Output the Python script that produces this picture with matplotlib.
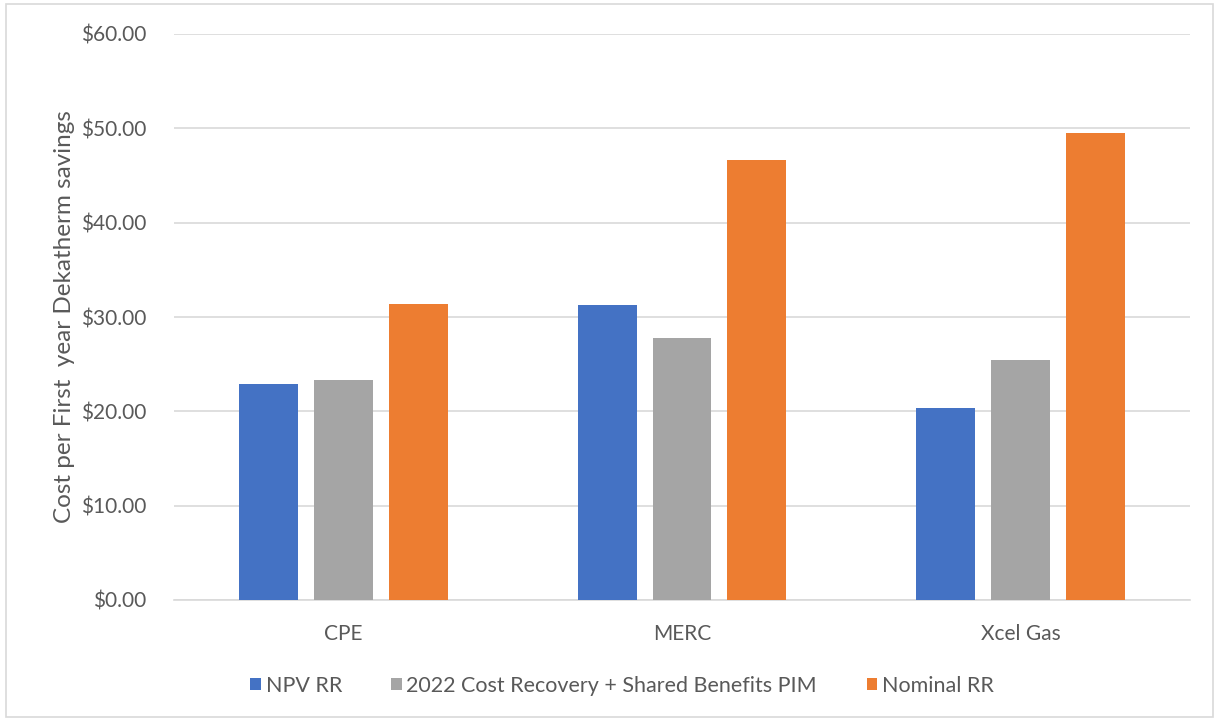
import matplotlib
matplotlib.use("Agg")
import matplotlib.pyplot as plt
import numpy as np
from matplotlib.patches import Rectangle
from matplotlib.ticker import FuncFormatter

categories = ["CPE", "MERC", "Xcel Gas"]
series_names = ["NPV RR", "2022 Cost Recovery + Shared Benefits PIM", "Nominal RR"]
npv_rr = [22.9, 31.3, 20.4]
cost_recovery_pim = [23.3, 27.8, 25.4]
nominal_rr = [31.4, 46.6, 49.5]
colors = ["#4472C4", "#A5A5A5", "#ED7D31"]
y_ticks = [0, 10, 20, 30, 40, 50, 60]

plt.rcParams["font.family"] = ["Lato", "DejaVu Sans"]
text_color = "#595959"

fig = plt.figure(figsize=(12.19, 7.21), dpi=100)
ax = fig.add_axes([174/1219, 1 - 600/721, (1190-174)/1219, (600-34)/721])

x = np.arange(len(categories))
width = 0.174
step = 0.221
for i, (vals, name, c) in enumerate(zip([npv_rr, cost_recovery_pim, nominal_rr], series_names, colors)):
    ax.bar(x + (i - 1) * step, vals, width=width, color=c, label=name, zorder=3)

ax.set_xlim(-0.5, len(categories) - 0.5)
ax.set_ylim(0, 60)
ax.set_yticks(y_ticks)
ax.yaxis.set_major_formatter(FuncFormatter(lambda v, p: f"${v:.2f}"))
ax.set_xticks(x)
ax.set_xticklabels(categories)
ax.grid(axis="y", color="#D9D9D9", linewidth=1.2, zorder=0)
for s in ["top", "right", "left"]:
    ax.spines[s].set_visible(False)
ax.spines["bottom"].set_color("#D9D9D9")
ax.spines["bottom"].set_linewidth(1.2)
ax.tick_params(axis="both", length=0, colors=text_color, labelsize=15)
ax.tick_params(axis="y", pad=20)
ax.tick_params(axis="x", pad=17)
ax.set_ylabel("Cost per First  year Dekatherm savings", color=text_color, fontsize=17.5, labelpad=4)

leg = fig.legend(loc="center", bbox_to_anchor=(622/1219, 1 - 686/721), ncol=3, frameon=False,
                 fontsize=15.5, handlelength=0.5, handleheight=0.5, handletextpad=0.2, columnspacing=2.3)
for t in leg.get_texts():
    t.set_color(text_color)

fig.patches.append(Rectangle((6/1219, 4/721), 1207/1219, 713/721, transform=fig.transFigure,
                             fill=False, edgecolor="#D9D9D9", linewidth=1.2))

fig.savefig("out.png", dpi=100, facecolor="white")
